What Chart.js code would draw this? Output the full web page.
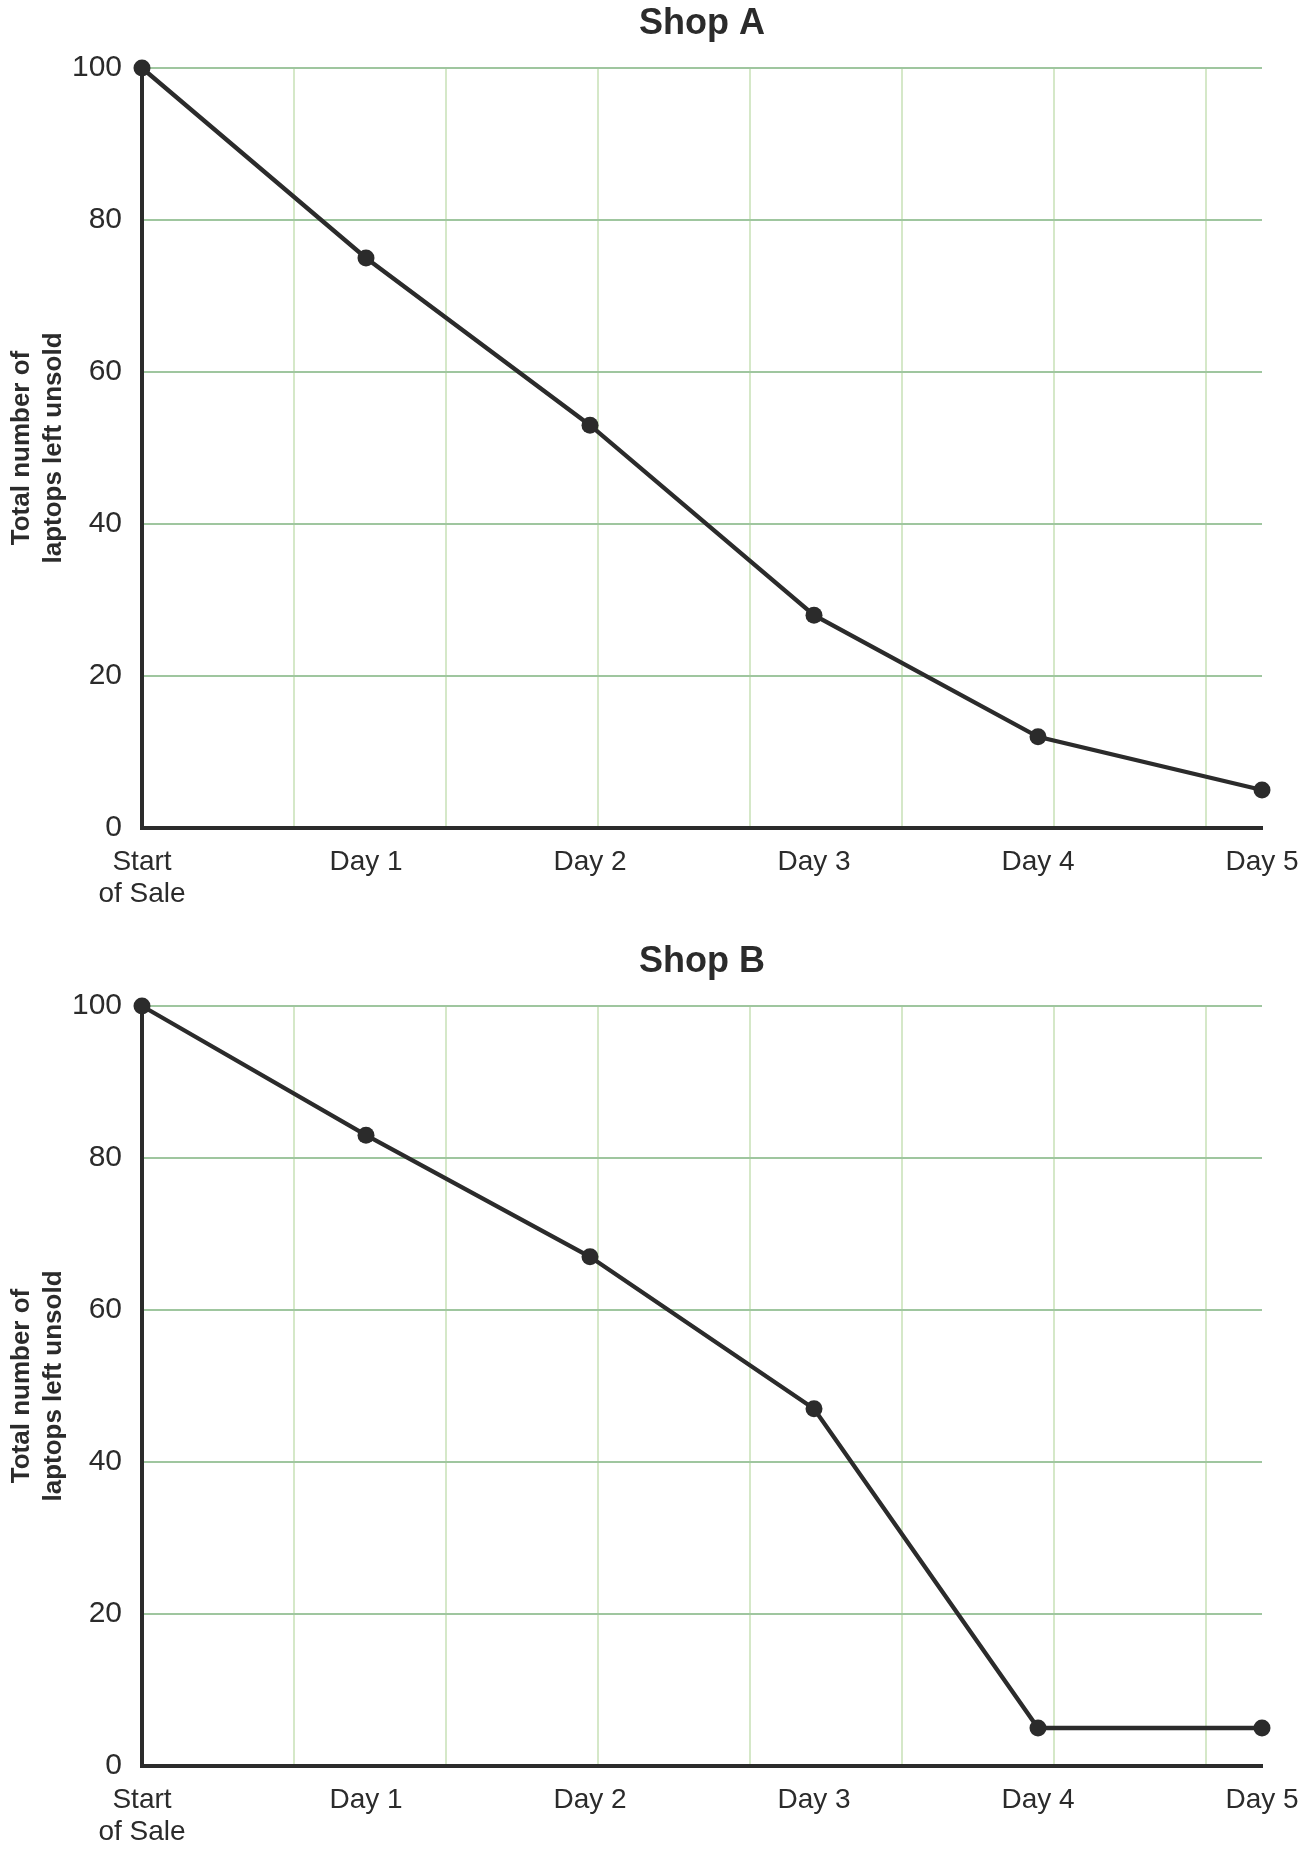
<!DOCTYPE html>
<html lang="en">
<head>
  <meta charset="UTF-8">
  <title>Laptops left unsold</title>
  <style>
    body {
      margin: 0;
      background-color: #fff;
      overflow: hidden;
    }
    canvas {
      display: block;
    }
  </style>
  <script src="https://cdn.jsdelivr.net/npm/chart.js"></script>
</head>
<body>
<canvas id="shopA" width="1308" height="938"></canvas>
<canvas id="shopB" width="1308" height="914"></canvas>

<script>
  // Data
  const categories = [['Start', 'of Sale'], 'Day 1', 'Day 2', 'Day 3', 'Day 4', 'Day 5'];
  const shopA = [100, 75, 53, 28, 12, 5];
  const shopB = [100, 83, 67, 47, 5, 5];
  const yTitle = ['Total number of', 'laptops left unsold'];

  const ink = '#2b2b2b';
  const fontFamily = "Arial, 'Liberation Sans', sans-serif";

  function makeChart(id, title, values, xHeight) {
    const ctx = document.getElementById(id).getContext('2d');
    return new Chart(ctx, {
      type: 'line',
      data: {
        labels: categories,
        datasets: [{
          data: values,
          borderColor: ink,
          backgroundColor: ink,
          borderWidth: 4.3,
          pointRadius: 8.5,
          pointBorderWidth: 0,
          tension: 0,
          clip: false
        }]
      },
      options: {
        responsive: false,
        animation: false,
        layout: { padding: { left: 0, right: 46, top: 0, bottom: 0 } },
        plugins: {
          legend: { display: false },
          tooltip: { enabled: false },
          title: {
            display: true,
            fullSize: false, // centre over the plot area
            text: title,
            color: ink,
            font: { family: fontFamily, size: 36, weight: 'bold', lineHeight: 1.2 },
            padding: { top: 2, bottom: 22.8 }
          }
        },
        scales: {
          x: {
            type: 'category',
            offset: false,
            grid: { display: false, drawTicks: false },
            border: { display: true, color: ink, width: 4 },
            ticks: {
              color: ink,
              maxRotation: 0,
              autoSkip: false,
              padding: 18,
              font: { family: fontFamily, size: 28, lineHeight: 32 / 28 }
            },
            afterFit: s => {
              s.height = xHeight;
              // plot width is set by layout padding only
              s.paddingLeft = 0;
              s.paddingRight = 0;
            }
          },
          // hidden axis only for the vertical grid lines
          x2: {
            type: 'linear',
            position: 'top',
            min: 0,
            max: 7.37,
            ticks: { display: false, stepSize: 1 },
            border: { display: false },
            grid: {
              drawTicks: false,
              lineWidth: 2,
              color: c => (c.tick && Number.isInteger(c.tick.value) && c.tick.value > 0) ? '#d5e8c8' : 'rgba(0,0,0,0)'
            },
            afterFit: s => { s.height = 0; }
          },
          y: {
            min: 0,
            max: 100,
            ticks: {
              stepSize: 20,
              color: ink,
              padding: 20,
              font: { family: fontFamily, size: 30 }
            },
            grid: { color: '#9fc69f', lineWidth: 2, drawTicks: false },
            border: { display: true, color: ink, width: 4 },
            title: {
              display: true,
              text: yTitle,
              color: ink,
              padding: { top: 6, bottom: 0 },
              font: { family: fontFamily, size: 26, weight: 'bold', lineHeight: 32 / 26 }
            },
            afterFit: s => { s.width = 142; }
          }
        }
      }
    });
  }

  makeChart('shopA', 'Shop A', shopA, 110);
  makeChart('shopB', 'Shop B', shopB, 86);
</script>
</body>
</html>
